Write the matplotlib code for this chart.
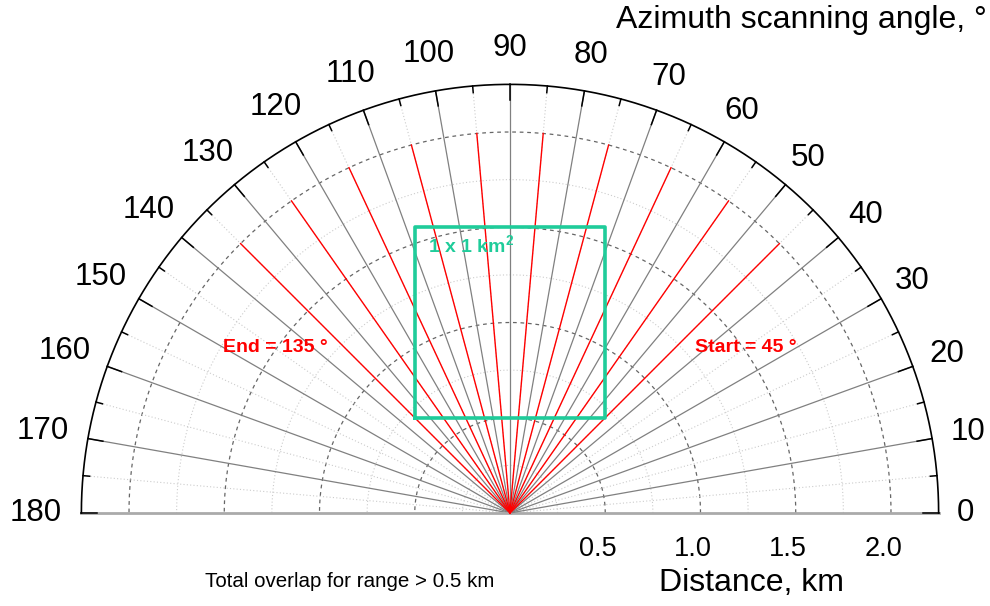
import numpy as np
import matplotlib
matplotlib.use('Agg')
from matplotlib import pyplot as plt

plt.rcParams['font.family'] = ['Liberation Sans', 'DejaVu Sans']
plt.rcParams['mathtext.fontset'] = 'custom'
plt.rcParams['mathtext.bf'] = 'Liberation Sans:bold'

# data
r_max = 2.25
major_angles = np.arange(0, 181, 10)          # solid gray spokes + labels
minor_angles = np.arange(5, 180, 10)          # light dotted spokes
scan_angles = np.arange(45, 136, 10)          # red beams
scan_range = 2.0
ring_major = [0.5, 1.0, 1.5, 2.0]
ring_minor = [0.25, 0.75, 1.25, 1.75]
dist_labels = ['0.5', '1.0', '1.5', '2.0']
box_x = [-0.5, 0.5]
box_y = [0.5, 1.5]
start_angle = 45
end_angle = 135

green = '#1fcc9a'

fig = plt.figure(figsize=(9.9, 6.06), dpi=100)
ax = fig.add_axes([0, 0, 1, 1])
ax.set_xlim(-510 / 190.5, 480 / 190.5)
ax.set_ylim(-93 / 190.5, 513 / 190.5)
ax.set_aspect('equal')
ax.axis('off')

t = np.linspace(0, np.pi, 400)

# rings
for r in ring_minor:
    ax.plot(r * np.cos(t), r * np.sin(t), color='#cccccc', lw=0.8, ls=(0, (1, 2)))
for r in ring_major:
    ax.plot(r * np.cos(t), r * np.sin(t), color='#666666', lw=0.9, ls=(0, (3, 3)))

# spokes
for a in minor_angles:
    th = np.deg2rad(a)
    ax.plot([0, r_max * np.cos(th)], [0, r_max * np.sin(th)], color='#cccccc', lw=0.8, ls=(0, (1, 2)))
for a in major_angles:
    th = np.deg2rad(a)
    lw = 2.0 if a in (0, 180) else 0.9
    col = '#aaaaaa' if a in (0, 180) else '#808080'
    ax.plot([0, r_max * np.cos(th)], [0, r_max * np.sin(th)], color=col, lw=lw)

# red beams
for a in scan_angles:
    th = np.deg2rad(a)
    ax.plot([0, scan_range * np.cos(th)], [0, scan_range * np.sin(th)], color='red', lw=1.0)

# outer circle and ticks
ax.plot(r_max * np.cos(t), r_max * np.sin(t), color='black', lw=1.2)
for a in np.arange(0, 181, 5):
    th = np.deg2rad(a)
    L = 0.08 if a % 10 == 0 else 0.035
    ax.plot([(r_max - L) * np.cos(th), r_max * np.cos(th)],
            [(r_max - L) * np.sin(th), r_max * np.sin(th)], color='black', lw=1.1)

# angle labels
for a in major_angles:
    th = np.deg2rad(a)
    r_lab = (2.39 + 0.05 * abs(np.sin(th)) + 0.05 * abs(np.cos(th)) * (len(str(a)) - 1)
             - 0.025 * abs(np.sin(2 * th)))
    ax.text(r_lab * np.cos(th), r_lab * np.sin(th), str(a), fontsize=22.5,
            ha='center', va='center')

# 1 x 1 km box
ax.plot([box_x[0], box_x[1], box_x[1], box_x[0], box_x[0]],
        [box_y[0], box_y[0], box_y[1], box_y[1], box_y[0]], color=green, lw=2.6)
ax.text(box_x[0] + 0.07, box_y[1] - 0.1, r'1 x 1 km$^\mathbf{2}$', color=green, fontsize=14,
        fontweight='bold', ha='left', va='center')

# start / end
ax.text(1.24, 0.87, 'Start = %d °' % start_angle, color='red', fontsize=14,
        fontweight='bold', ha='center', va='center')
ax.text(-1.23, 0.87, 'End = %d °' % end_angle, color='red', fontsize=14,
        fontweight='bold', ha='center', va='center')

# distance axis
for r, lab in zip(ring_major, dist_labels):
    ax.text(r - 0.04, -0.19, lab, fontsize=19.5, ha='center', va='center')
ax.text(1.27, -0.37, 'Distance, km', fontsize=23, ha='center', va='center')
ax.text(-0.84, -0.36, 'Total overlap for range > 0.5 km', fontsize=14.8,
        ha='center', va='center')
ax.text(2.50, 2.59, 'Azimuth scanning angle, °', fontsize=23, ha='right', va='center')

fig.savefig('out.png', dpi=100)
